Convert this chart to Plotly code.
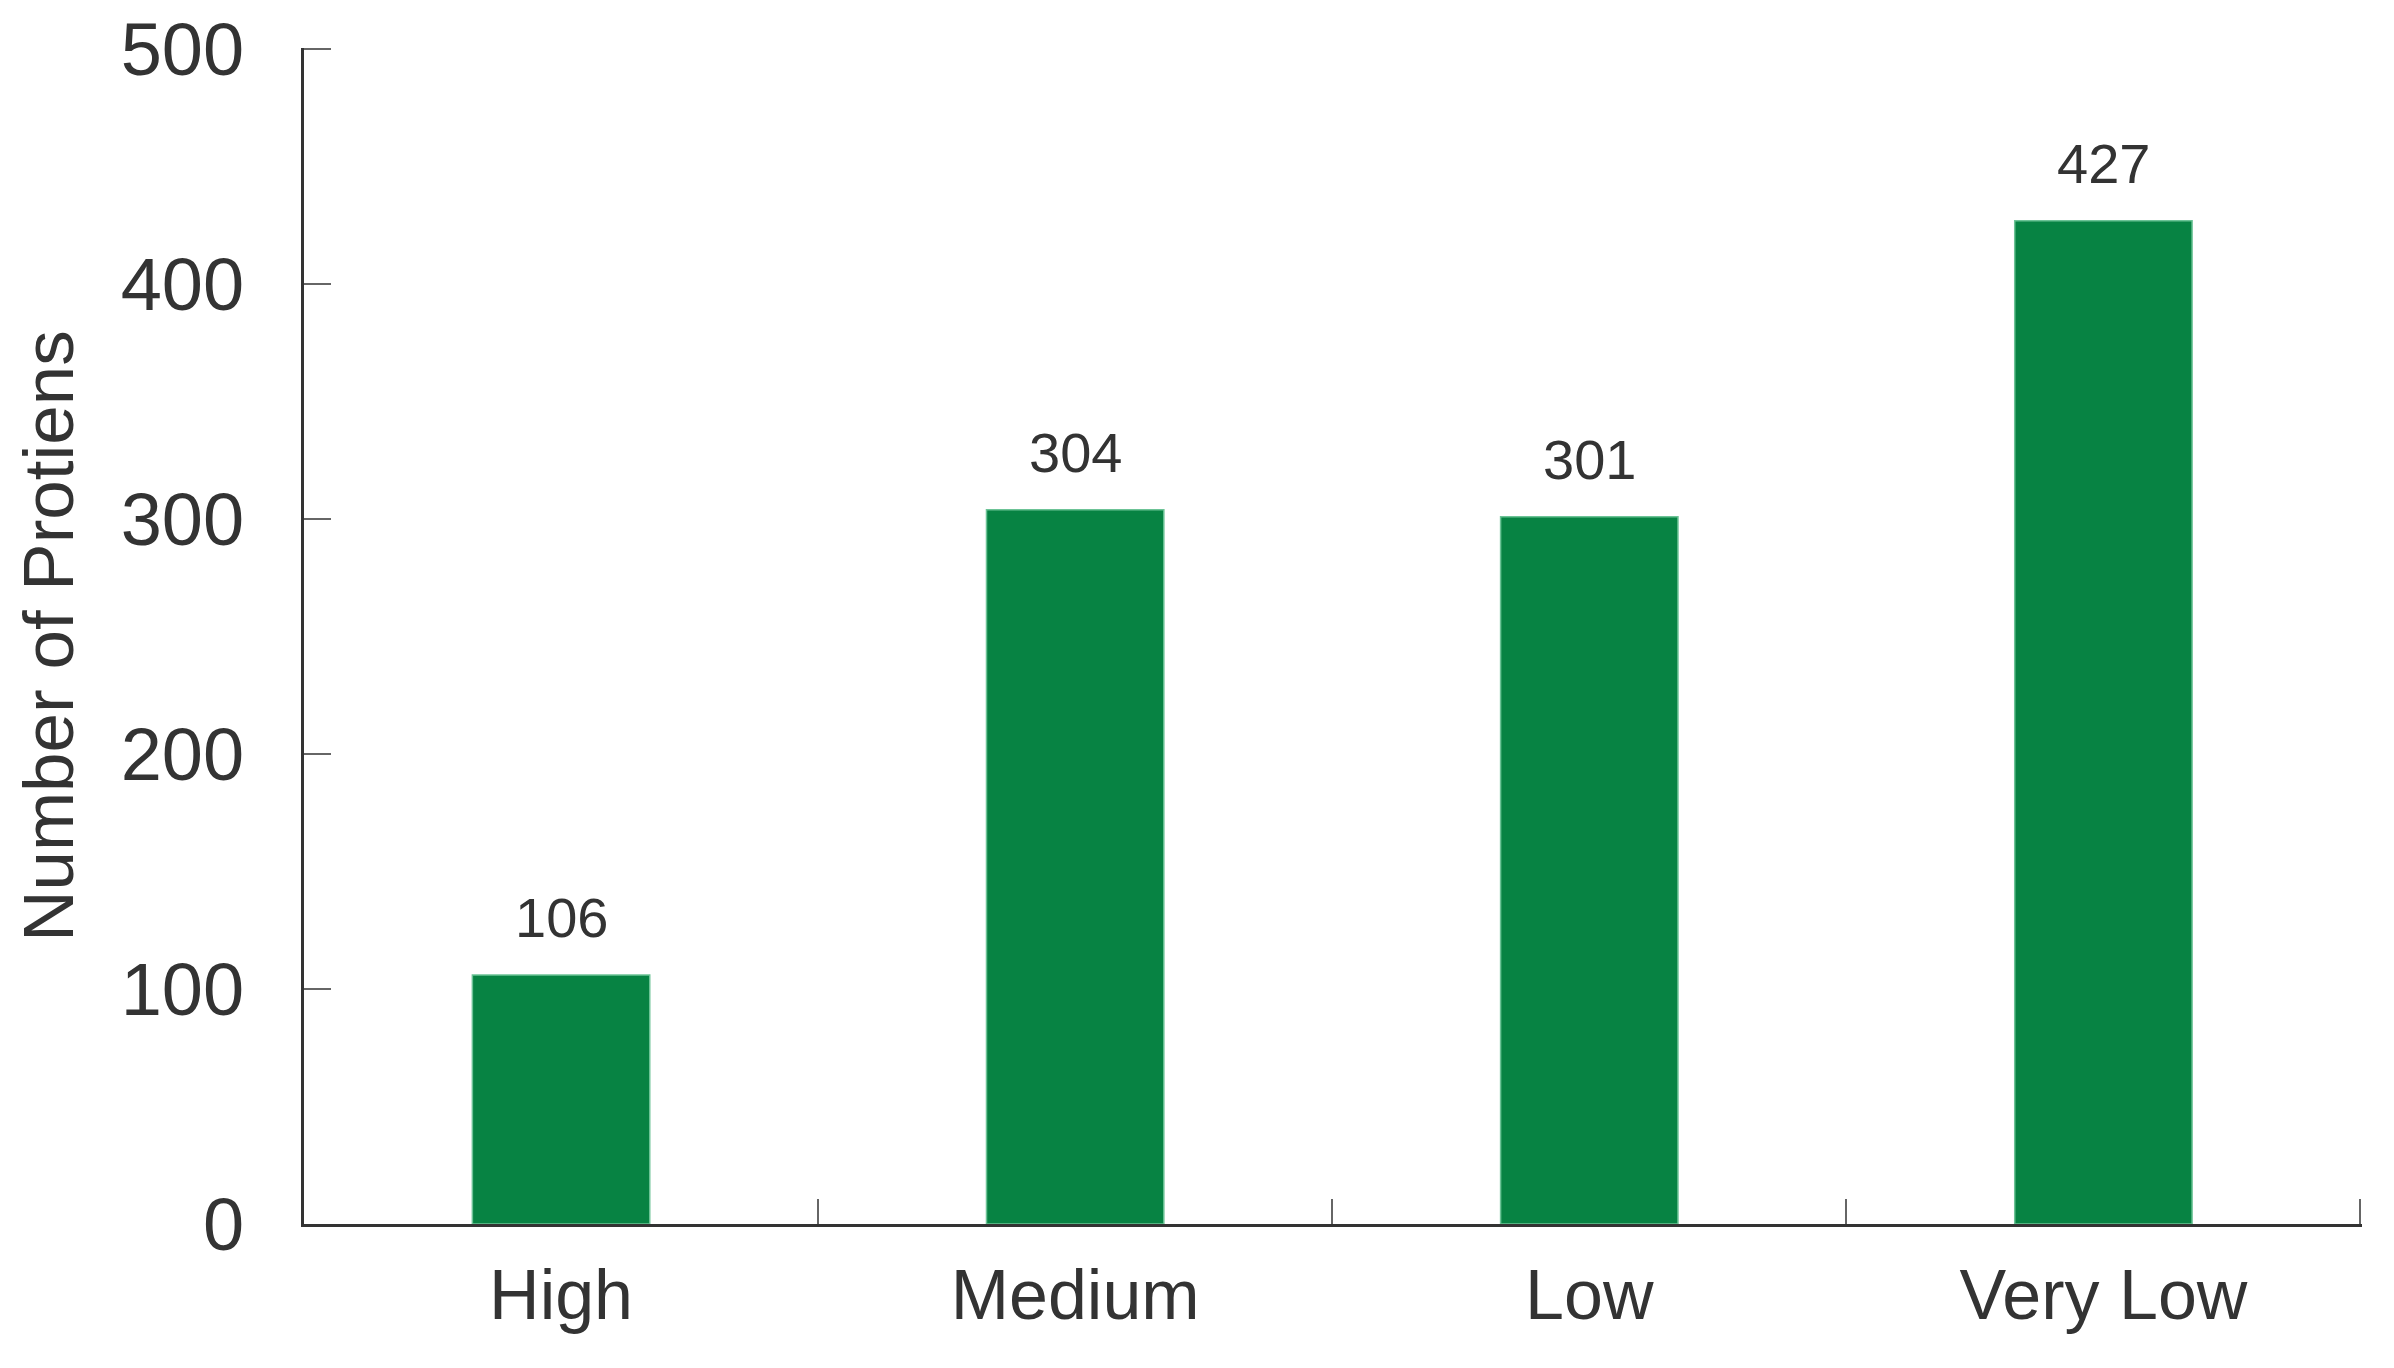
import plotly.graph_objects as go

categories = ["High", "Medium", "Low", "Very Low"]
values = [106, 304, 301, 427]
y_ticks = [0, 100, 200, 300, 400, 500]

FONT = "Liberation Sans, Arial, sans-serif"
TXT = "#333333"
GREEN = "#078343"

fig = go.Figure()
fig.add_trace(go.Bar(
    x=categories, y=values,
    marker=dict(color=GREEN, line=dict(color="#6cc396", width=1.5)),
    width=0.345,
    cliponaxis=False,
    showlegend=False,
))

for c, v in zip(categories, values):
    fig.add_annotation(
        x=c, y=v, text=str(v), showarrow=False,
        yanchor="bottom", yshift=24,
        font=dict(family=FONT, size=56, color=TXT),
    )

fig.update_layout(
    width=2394, height=1368,
    margin=dict(l=296, r=40, t=40, b=152),
    paper_bgcolor="white", plot_bgcolor="white",
    font=dict(family=FONT, color=TXT),
)
fig.update_xaxes(
    range=[-0.5, 3.503],
    showline=True, linecolor="#333333", linewidth=3,
    ticks="inside", tickcolor="#666666", ticklen=25, tickwidth=2,
    tickson="boundaries",
    tickfont=dict(family=FONT, size=70, color=TXT),
    ticklabelstandoff=8,
    showgrid=False, zeroline=False,
    automargin=False,
)
fig.update_yaxes(
    range=[0, 500.5],
    tickvals=y_ticks,
    showline=True, linecolor="#333333", linewidth=3,
    ticks="inside", tickcolor="#666666", ticklen=27, tickwidth=2,
    tickfont=dict(family=FONT, size=74, color=TXT),
    ticklabelstandoff=42,
    ticklabeloverflow="allow",
    showgrid=False, zeroline=False,
    title=dict(text="Number of Protiens", font=dict(family=FONT, size=71, color=TXT), standoff=24),
    automargin=False,
)

fig.write_html("out.html")
